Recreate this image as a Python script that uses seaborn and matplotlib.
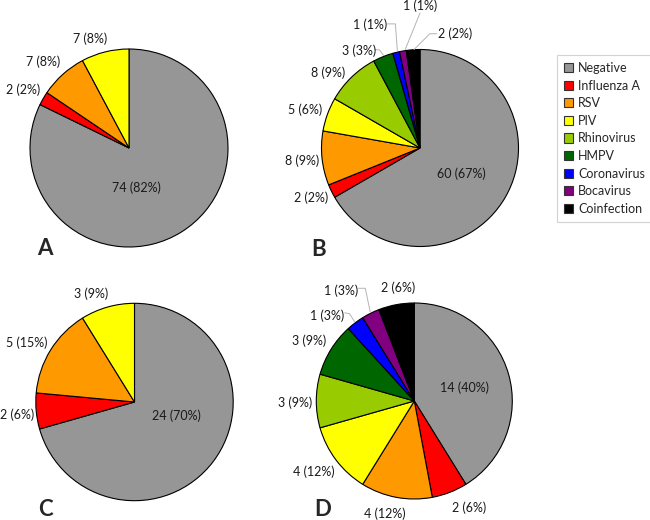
import matplotlib
matplotlib.use("Agg")
import matplotlib.pyplot as plt
from matplotlib.patches import Patch
import seaborn as sns

sns.set_theme(style="white")
plt.rcParams['font.family'] = ['Lato', 'DejaVu Sans']

categories = ["Negative", "Influenza A", "RSV", "PIV", "Rhinovirus", "HMPV",
              "Coronavirus", "Bocavirus", "Coinfection"]
colors = ["#969696", "#FF0000", "#FF9900", "#FFFF00", "#99CC00", "#006600",
          "#0000FF", "#800080", "#000000"]

values_A = [74, 2, 7, 7]
pct_A = ["82%", "2%", "8%", "8%"]
values_B = [60, 2, 8, 5, 8, 3, 1, 1, 2]
pct_B = ["67%", "2%", "9%", "6%", "9%", "3%", "1%", "1%", "2%"]
values_C = [24, 2, 5, 3]
pct_C = ["70%", "6%", "15%", "9%"]
values_D = [14, 2, 4, 4, 3, 3, 1, 1, 2]
pct_D = ["40%", "6%", "12%", "12%", "9%", "9%", "3%", "3%", "6%"]
panel_letters = ["A", "B", "C", "D"]

# label positions (in pie-radius units relative to centre)
pos_A = [(0.08, -0.40), (-1.07, 0.59), (-0.87, 0.87), (-0.39, 1.10)]
pos_B = [(0.42, -0.26), (-1.11, -0.50), (-1.20, -0.13), (-1.17, 0.39),
         (-0.93, 0.76), (-0.62, 0.99), (-0.51, 1.25), (0.0, 1.44), (0.36, 1.16)]
pos_C = [(0.42, -0.14), (-1.19, -0.13), (-1.09, 0.60), (-0.44, 1.10)]
pos_D = [(0.51, 0.14), (0.56, -1.09), (-0.30, -1.15), (-1.03, -0.72),
         (-1.22, -0.02), (-1.07, 0.61), (-0.89, 0.87), (-0.75, 1.13), (-0.17, 1.16)]

# leader lines: slice index -> points (pie units)
leaders_B = {
    5: [(-0.46, 1.00), (-0.41, 0.995), (-0.37, 0.94)],
    6: [(-0.33, 1.26), (-0.25, 1.26), (-0.23, 0.99)],
    7: [(0.0, 1.37), (-0.15, 1.0)],
    8: [(0.17, 1.16), (0.10, 1.16), (-0.06, 1.0)],
}
leaders_D = {
    6: [(-0.71, 0.90), (-0.66, 0.89), (-0.61, 0.81)],
    7: [(-0.57, 1.15), (-0.50, 1.15), (-0.45, 0.91)],
}

W, H = 650, 520
fig = plt.figure(figsize=(6.5, 5.2), dpi=100)

panels = [
    (values_A, pct_A, pos_A, {}, (129, 148), 99.0, (45, 248)),
    (values_B, pct_B, pos_B, leaders_B, (420, 148), 98.5, (319, 249)),
    (values_C, pct_C, pos_C, {}, (134.5, 402), 98.7, (45, 510)),
    (values_D, pct_D, pos_D, leaders_D, (414.3, 401), 98.0, (323, 510)),
]

for (vals, pcts, pos, leaders, (cx, cy), R, (lx, ly)), letter in zip(panels, panel_letters):
    size = 320
    lim = size / 2 / R
    ax = fig.add_axes([(cx - size / 2) / W, 1 - (cy + size / 2) / H, size / W, size / H])
    ax.pie(vals, colors=colors[:len(vals)], startangle=90, counterclock=False,
           radius=1.0, wedgeprops=dict(edgecolor="black", linewidth=0.8))
    ax.set_xlim(-lim, lim)
    ax.set_ylim(-lim, lim)
    ax.set_aspect('equal')
    ax.axis('off')
    for i, (v, p) in enumerate(zip(vals, pcts)):
        x, y = pos[i]
        ax.text(x, y, f"{v} ({p})", ha='center', va='center', fontsize=9,
                color="#1a1a1a", clip_on=False)
    for i, pts in leaders.items():
        xs, ys = zip(*pts)
        ax.plot(xs, ys, color="#b4b4b4", linewidth=0.7, clip_on=False)
    fig.text(lx / W, 1 - ly / H, letter, fontsize=16, fontweight='bold',
             ha='center', va='center')

handles = [Patch(facecolor=c, edgecolor="#333333", linewidth=0.8) for c in colors]
leg = fig.legend(handles, categories, loc='upper left',
                 bbox_to_anchor=(557 / W, 1 - 55 / H), fontsize=9,
                 frameon=True, fancybox=False, edgecolor="#c8c8c8",
                 handlelength=0.75, handleheight=0.75, handletextpad=0.4,
                 labelspacing=0.45, borderpad=0.55, borderaxespad=0)
leg.get_frame().set_linewidth(0.8)

fig.savefig("out.png", dpi=100, facecolor="white")
